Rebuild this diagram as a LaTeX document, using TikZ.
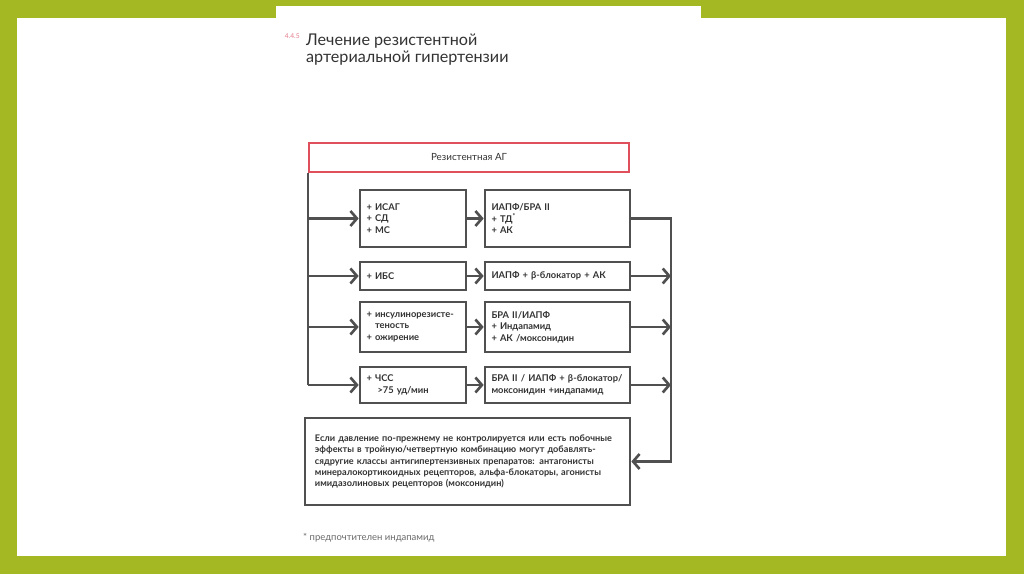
\documentclass[tikz,border=0pt]{standalone}
\usepackage{fontspec}
\setmainfont{Lato}
\usepackage{tikz}
\usetikzlibrary{arrows.meta,positioning,calc}
\usepackage{xcolor}
\definecolor{colgreen}{HTML}{A4B823}
\definecolor{colred}{HTML}{E0505C}
\definecolor{colline}{HTML}{505050}
\definecolor{coltext}{HTML}{333333}
\definecolor{colpink}{HTML}{E57C8C}
\definecolor{colfoot}{HTML}{6A6A6A}

\begin{document}
\begin{tikzpicture}[
  x=0.2mm,y=-0.2mm,
  font=\fontsize{5.3}{6.6}\selectfont\bfseries,
  text=coltext,
  box/.style={draw=colline,line width=1.5pt,align=left,inner ysep=0pt},
  cond/.style={box,minimum width=21.2mm,text width=18.6mm,inner xsep=1.3mm},
  ther/.style={box,minimum width=29mm,text width=26.4mm,inner xsep=1.3mm},
  conn/.style={draw=colline,line width=1.5pt},
  tip/.style={-{Straight Barb[length=1.3mm,width=3mm]}},
]
  % ---- фон слайда ----
  \useasboundingbox (0,0) rectangle (1024,574);
  \fill[colgreen] (0,0) rectangle (1024,574);
  \fill[white] (17,18) rectangle (1006,556);
  \fill[white] (276,6) rectangle (701,18);

  % ---- заголовок ----
  \node[anchor=north west,align=left,font=\fontsize{9.2}{9.3}\selectfont,text=coltext] (title) at (300,28)
    {Лечение резистентной\\артериальной гипертензии};
  \node[anchor=north east,font=\fontsize{3.8}{4}\selectfont,text=colpink,inner sep=0pt] (num) at (300,33) {4.4.5};

  % ---- схема ----
  \node[draw=colred,line width=1.3pt,minimum width=64mm,minimum height=5.8mm,font=\fontsize{5.6}{6.5}\selectfont]
    (rag) at (469,157.5) {Резистентная АГ};

  \node[cond,minimum height=11.4mm] (cond1) at (413,218.5) {+ ИСАГ\\+ СД\\+ МС};
  \node[cond,minimum height=5.6mm]  (cond2) at (413,276)   {+ ИБС};
  \node[cond,minimum height=10mm]   (cond3) at (413,327)   {+ инсулинорезисте-\\\phantom{+ }теность\\+ ожирение};
  \node[cond,minimum height=7.2mm]  (cond4) at (413,385)   {+ ЧСС\\\hspace*{2.2mm}>75 уд/мин};

  \node[ther,minimum height=11.4mm] (ther1) at (557.5,218.5) {ИАПФ/БРА II\\+ ТД\textsuperscript{*}\\+ АК};
  \node[ther,minimum height=5.6mm]  (ther2) at (557.5,276)   {ИАПФ + β-блокатор + АК};
  \node[ther,minimum height=10mm]   (ther3) at (557.5,327)   {БРА II/ИАПФ\\+ Индапамид\\+ АК /моксонидин};
  \node[ther,minimum height=7.2mm]  (ther4) at (557.5,385)   {БРА II / ИАПФ + β-блокатор/\\моксонидин +индапамид};

  \node[box,minimum width=65mm,minimum height=17.4mm,text width=61mm,inner xsep=2mm,
        font=\fontsize{5.2}{6.5}\selectfont\bfseries] (note) at (467.5,461.5)
    {Если давление по-прежнему не контролируется или есть побочные\\
     эффекты в тройную/четвертную комбинацию могут добавлять-\\
     сядругие классы антигипертензивных препаратов: антагонисты\\
     минералокортикоидных рецепторов, альфа-блокаторы, агонисты\\
     имидазолиновых рецепторов (моксонидин)};

  \coordinate (rt) at (671,0);

  % ---- связи ----
  \draw[conn] (rag.south west) -- (rag.south west |- cond4.west);
  \foreach \i in {1,...,4} {
    \draw[conn,tip] (rag.south west |- cond\i.west) -- (cond\i.west);
    \draw[conn,tip] (cond\i) -- (ther\i);
  }
  \draw[conn,tip] (ther1.east) -- (ther1.east -| rt) |- (note.east);
  \foreach \i in {2,...,4}
    \draw[conn,tip] (ther\i.east) -- (ther\i.east -| rt);

  % ---- сноска ----
  \node[anchor=west,font=\fontsize{5.4}{6}\selectfont,text=colfoot] (foot) at (297,538) {* предпочтителен индапамид};
\end{tikzpicture}
\end{document}
